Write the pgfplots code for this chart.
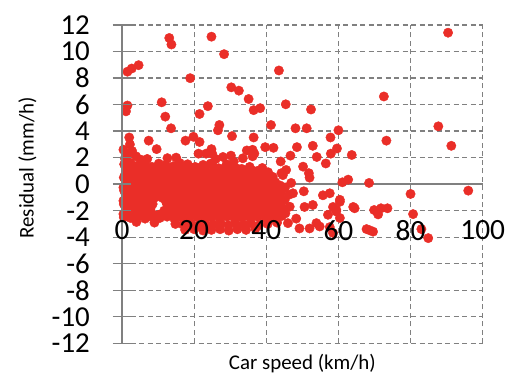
\documentclass[border=0pt]{standalone}
\usepackage{pgfplots}
\pgfplotsset{compat=1.18}
\usepackage{fontspec}
\setmainfont{Carlito}
\definecolor{dotred}{RGB}{234,46,40}
\definecolor{gridgray}{RGB}{128,128,128}
\pgfplotsset{
  base/.style={
    at={(0,0)}, anchor=south west,
    scale only axis, width=360.7bp, height=318.3bp,
    xmin=0, xmax=100, ymin=-12, ymax=12,
    axis x line=middle, axis y line=left,
    hide obscured x ticks=false, hide obscured y ticks=false,
    axis line style={-, gridgray, line width=1.3bp},
    xtick={0,20,...,100}, ytick={-12,-10,...,12},
    tick align=center, major tick length=18bp,
    xtick style={draw=none}, ytick style={gridgray, line width=1.3bp},
  },
}
\begin{document}
\begin{tikzpicture}
\path[use as bounding box] (-122bp,-29.7bp) rectangle (391bp,343.3bp);
% points and grid
\begin{axis}[
  base,
  grid=major,
  major grid style={gridgray, dash pattern=on 5bp off 3.5bp, line width=1.2bp},
  xticklabels={}, yticklabels={},
]
\addplot[only marks, mark=*, mark size=4.7bp, dotred, mark options={draw=dotred, fill=dotred}] coordinates {
(13.1,11.02)(13.7,10.53)(24.8,11.12)(28.3,9.80)(1.5,8.48)(2.7,8.72)(4.6,8.97)(18.9,7.99)(43.5,8.57)(90.4,11.42)
(72.6,6.61)(30.3,7.30)(32.4,7.05)(35.1,6.42)(36.5,5.58)(38.3,5.73)(45.4,6.02)(52.4,5.63)(1.5,5.93)(1.1,5.49)
(11.0,6.17)(12.0,5.09)(13.6,4.21)(21.5,5.29)(23.8,5.88)(27.0,4.46)(26.6,4.06)(30.5,3.62)(36.5,3.52)(41.3,4.46)
(48.1,4.21)(51.2,4.21)(60.0,4.06)(57.8,3.52)(59.6,2.69)(87.7,4.36)(73.3,3.28)(91.3,2.89)(2.0,3.52)(7.4,3.28)
(9.6,2.64)(17.6,3.28)(19.8,3.57)(21.5,3.18)(21.2,2.30)(23.3,2.30)(24.8,2.64)(25.0,2.30)(34.6,2.54)(36.7,2.30)
(39.7,2.79)(42.0,2.74)(48.5,2.79)(52.9,2.89)(57.9,2.30)(54.0,2.05)(56.5,1.56)(46.7,2.15)(63.7,2.20)(44.0,1.71)
(50.2,1.32)(51.8,0.83)(52.0,0.49)(44.2,0.83)(45.5,1.07)(61.1,0.14)(62.7,0.34)(68.5,0.09)
(96.0,-0.49)(80.0,-0.74)(80.7,-2.26)(83.0,-3.39)(84.9,-4.07)(67.8,-3.39)(69.6,-3.58)(69.9,-1.95)(71.8,-1.82)(73.6,-1.82)
(71.0,-2.28)(64.1,-1.72)(64.5,-1.82)(60.4,-1.18)(58.5,-1.72)(59.4,-2.06)(57.1,-2.31)(57.6,-3.24)(58.5,-3.68)(55.7,-0.84)
(57.6,-0.69)(50.4,-0.54)(47.4,-0.69)(52.9,-1.57)(50.6,-1.72)(53.9,-2.94)(52.0,-3.34)(48.3,-2.60)(46.0,-2.94)(49.2,-3.34)
(12.6,1.96)(36.2,2.59)(38.9,1.22)(36.2,2.10)(39.0,0.83)(44.6,0.68)(46.9,0.09)(60.4,-1.33)(59.4,-1.92)(54.8,-3.19)
(60.4,-2.55)(68.7,-3.48)(15.0,2.0)(26.0,1.9)(28.0,2.05)(33.5,1.95)(30.2,2.15)
(0.4,2.6)(1.5,2.2)(2.8,2.5)(0.8,1.95)(3.9,2.1)(5.2,1.85)(2.2,3.0)(7.0,1.9)
(0.6,1.5)(2.4,1.6)(4.3,1.4)(6.4,1.55)(8.3,1.3)(10.2,1.55)(12.1,1.45)(14.2,1.35)(16.0,1.6)(18.2,1.5)
(20.3,1.3)(22.5,1.45)(24.6,1.55)(26.8,1.2)(29.0,1.5)(31.0,1.7)(33.2,1.15)(35.4,1.3)(37.6,1.0)(40.5,0.9)
(1.3,1.0)(3.3,0.95)(5.3,1.05)(7.2,0.9)(9.3,1.0)(11.2,0.85)(13.2,1.05)(15.1,0.95)(17.1,0.9)(19.3,1.1)
(21.3,0.95)(23.5,0.85)(25.6,1.0)(27.8,0.75)(29.9,1.0)(32.1,0.9)(34.2,0.65)(36.4,0.8)(38.5,0.6)(41.8,0.55)
(0.5,0.5)(2.5,0.45)(4.4,0.55)(6.3,0.4)(8.2,0.5)(10.3,0.35)(12.3,0.55)(14.3,0.45)(16.2,0.4)(18.4,0.5)
(20.4,0.55)(22.6,0.4)(24.7,0.45)(26.9,0.3)(28.9,0.5)(31.1,0.4)(33.2,0.3)(35.4,0.45)(37.5,0.2)(39.6,0.35)(42.5,0.15)
(1.2,0.0)(3.2,-0.05)(5.2,0.05)(7.3,-0.1)(9.2,0.0)(11.2,-0.05)(13.3,0.05)(15.2,-0.1)(17.3,0.0)(19.3,-0.05)
(21.4,0.05)(23.5,-0.1)(25.7,0.0)(27.8,-0.05)(29.9,0.05)(32.0,-0.1)(34.2,0.0)(36.3,-0.15)(38.5,-0.05)(40.6,-0.2)(42.9,-0.3)(45.2,-0.25)
(0.6,-0.5)(2.6,-0.55)(4.5,-0.45)(6.5,-0.6)(8.4,-0.5)(10.4,-0.55)(12.4,-0.45)(14.4,-0.6)(16.4,-0.5)(18.4,-0.55)
(20.5,-0.45)(22.6,-0.6)(24.7,-0.5)(26.8,-0.55)(28.9,-0.45)(31.0,-0.6)(33.1,-0.5)(35.3,-0.55)(37.4,-0.45)(39.6,-0.6)(41.8,-0.65)(44.0,-0.7)(46.3,-0.8)
(1.3,-1.0)(3.3,-1.05)(5.3,-0.95)(7.2,-1.1)(9.2,-1.0)(11.3,-1.05)(13.3,-0.95)(15.3,-1.1)(17.4,-1.0)(19.4,-1.05)
(21.5,-0.95)(23.6,-1.1)(25.7,-1.0)(27.8,-1.05)(30.0,-0.95)(32.1,-1.1)(34.2,-1.0)(36.3,-1.05)(38.5,-0.95)(40.7,-1.1)(42.9,-1.05)(45.1,-1.2)
(0.5,-1.5)(2.5,-1.55)(4.5,-1.45)(6.5,-1.6)(8.5,-1.5)(12.4,-1.45)(14.5,-1.6)(16.5,-1.5)(18.5,-1.55)(20.6,-1.45)
(22.7,-1.6)(24.8,-1.5)(26.9,-1.55)(29.0,-1.45)(31.1,-1.6)(33.2,-1.5)(35.4,-1.55)(37.5,-1.45)(39.7,-1.6)(41.9,-1.5)(44.1,-1.65)(46.5,-1.7)
(1.2,-2.0)(3.2,-2.05)(5.2,-1.95)(7.2,-2.1)(11.7,-2.0)(13.4,-2.05)(15.4,-1.95)(17.5,-2.1)(19.5,-2.0)(21.6,-2.05)
(23.7,-1.95)(25.8,-2.1)(27.9,-2.0)(30.0,-2.05)(32.2,-1.95)(34.3,-2.1)(36.5,-2.0)(38.6,-2.05)(40.8,-1.95)(43.0,-2.1)(45.3,-2.2)
(0.5,-2.5)(2.4,-2.55)(4.4,-2.45)(6.4,-2.6)(8.4,-2.5)(10.5,-2.55)(12.5,-2.45)(14.5,-2.6)(16.6,-2.5)(18.6,-2.55)
(20.7,-2.45)(22.8,-2.6)(24.9,-2.5)(27.0,-2.55)(29.1,-2.45)(31.2,-2.6)(33.3,-2.5)(35.5,-2.55)(37.6,-2.45)(39.8,-2.6)(42.0,-2.5)(44.3,-2.4)
(4.0,-2.85)(9.0,-2.9)(14.8,-3.0)(16.9,-3.05)(19.0,-2.95)(21.1,-3.1)(23.2,-3.0)(25.3,-3.05)(27.4,-2.95)(29.5,-3.1)
(31.6,-3.0)(33.7,-3.05)(35.8,-2.95)(38.0,-3.1)(40.4,-3.0)(43.0,-2.9)
(17.5,-3.45)(20.0,-3.4)(22.5,-3.5)(24.8,-3.45)(27.2,-3.4)(29.6,-3.5)(32.0,-3.4)(34.4,-3.45)(37.0,-3.35)
(1.8,1.25)(3.9,1.2)(6.0,1.3)(8.1,1.15)(10.3,1.25)(12.4,1.2)(14.6,1.3)(16.7,1.15)(18.8,1.3)(21.0,1.2)(23.1,1.25)(25.3,1.3)(27.4,1.1)(29.6,1.25)(31.7,1.2)(33.9,1.0)(36.0,1.05)
(0.9,0.75)(2.9,0.7)(4.9,0.8)(7.0,0.65)(9.0,0.75)(11.1,0.7)(13.1,0.8)(15.2,0.7)(17.3,0.65)(19.4,0.8)(21.5,0.7)(23.6,0.75)(25.7,0.65)(27.9,0.55)(30.0,0.75)(32.2,0.6)(34.4,0.5)(36.6,0.55)(38.8,0.4)(40.9,0.3)
(1.8,0.25)(3.8,0.2)(5.8,0.3)(7.8,0.15)(9.8,0.25)(11.9,0.2)(13.9,0.3)(16.0,0.15)(18.0,0.25)(20.1,0.2)(22.2,0.3)(24.3,0.15)(26.4,0.2)(28.5,0.25)(30.6,0.15)(32.7,0.2)(34.8,0.1)(37.0,0.05)(39.1,0.0)(41.4,-0.05)(43.8,-0.1)
(0.4,-0.25)(2.3,-0.3)(4.3,-0.2)(6.2,-0.3)(8.2,-0.25)(10.2,-0.3)(12.2,-0.2)(14.2,-0.35)(16.3,-0.25)(18.3,-0.3)(20.4,-0.2)(22.5,-0.35)(24.6,-0.25)(26.7,-0.3)(28.8,-0.2)(30.9,-0.35)(33.0,-0.25)(35.2,-0.3)(37.3,-0.25)(39.5,-0.4)(41.7,-0.35)(44.2,-0.45)
(1.9,-0.75)(3.9,-0.8)(5.9,-0.7)(7.8,-0.85)(9.8,-0.75)(11.9,-0.8)(13.9,-0.7)(15.9,-0.85)(18.0,-0.75)(20.0,-0.8)(22.1,-0.7)(24.2,-0.85)(26.3,-0.75)(28.4,-0.8)(30.5,-0.7)(32.6,-0.85)(34.7,-0.75)(36.9,-0.8)(39.0,-0.7)(41.2,-0.85)(43.4,-0.9)
(0.4,-1.25)(2.3,-1.3)(4.3,-1.2)(6.3,-1.35)(8.3,-1.25)(12.2,-1.3)(14.2,-1.2)(16.3,-1.35)(18.4,-1.25)(20.4,-1.3)(22.5,-1.2)(24.6,-1.35)(26.7,-1.25)(28.8,-1.3)(30.9,-1.2)(33.0,-1.35)(35.1,-1.25)(37.3,-1.3)(39.4,-1.2)(41.6,-1.35)(43.8,-1.4)
(1.9,-1.75)(3.9,-1.8)(5.9,-1.7)(7.9,-1.85)(13.3,-1.8)(15.4,-1.7)(17.4,-1.85)(19.5,-1.75)(21.6,-1.8)(23.7,-1.7)(25.8,-1.85)(27.9,-1.75)(30.0,-1.8)(32.1,-1.7)(34.2,-1.85)(36.4,-1.75)(38.5,-1.8)(40.6,-1.7)(42.8,-1.85)(45.0,-1.9)
(0.4,-2.25)(2.3,-2.3)(4.3,-2.2)(6.3,-2.35)(8.4,-2.25)(10.3,-2.3)(12.4,-2.2)(14.4,-2.35)(16.4,-2.25)(18.5,-2.3)(20.6,-2.2)(22.7,-2.35)(24.8,-2.25)(26.9,-2.3)(29.0,-2.2)(31.1,-2.35)(33.2,-2.25)(35.4,-2.3)(37.5,-2.2)(39.7,-2.35)(41.9,-2.25)(44.1,-2.3)
};
\end{axis}
% y axis line, ticks, tick labels and titles drawn over the points
\begin{axis}[
  base,
  x axis line style={draw=none},
  /pgf/number format/assume math mode=true,
  yticklabel style={font=\fontsize{29}{29}\selectfont, anchor=east, inner sep=0pt, xshift=-23bp},
  xticklabel style={font=\fontsize{29.5}{29.5}\selectfont, anchor=north, inner sep=0pt, yshift=-27bp},
  xlabel={Car speed (km/h)}, ylabel={Residual (mm/h)},
  every axis x label/.style={at={(axis description cs:0.5,0)}, anchor=north, yshift=-7bp, font=\fontsize{21}{21}\selectfont},
  every axis y label/.style={at={([xshift=-94.5bp]axis description cs:0,0.551)}, rotate=90, anchor=center, font=\fontsize{21}{21}\selectfont},
]
\end{axis}
\end{tikzpicture}
\end{document}
